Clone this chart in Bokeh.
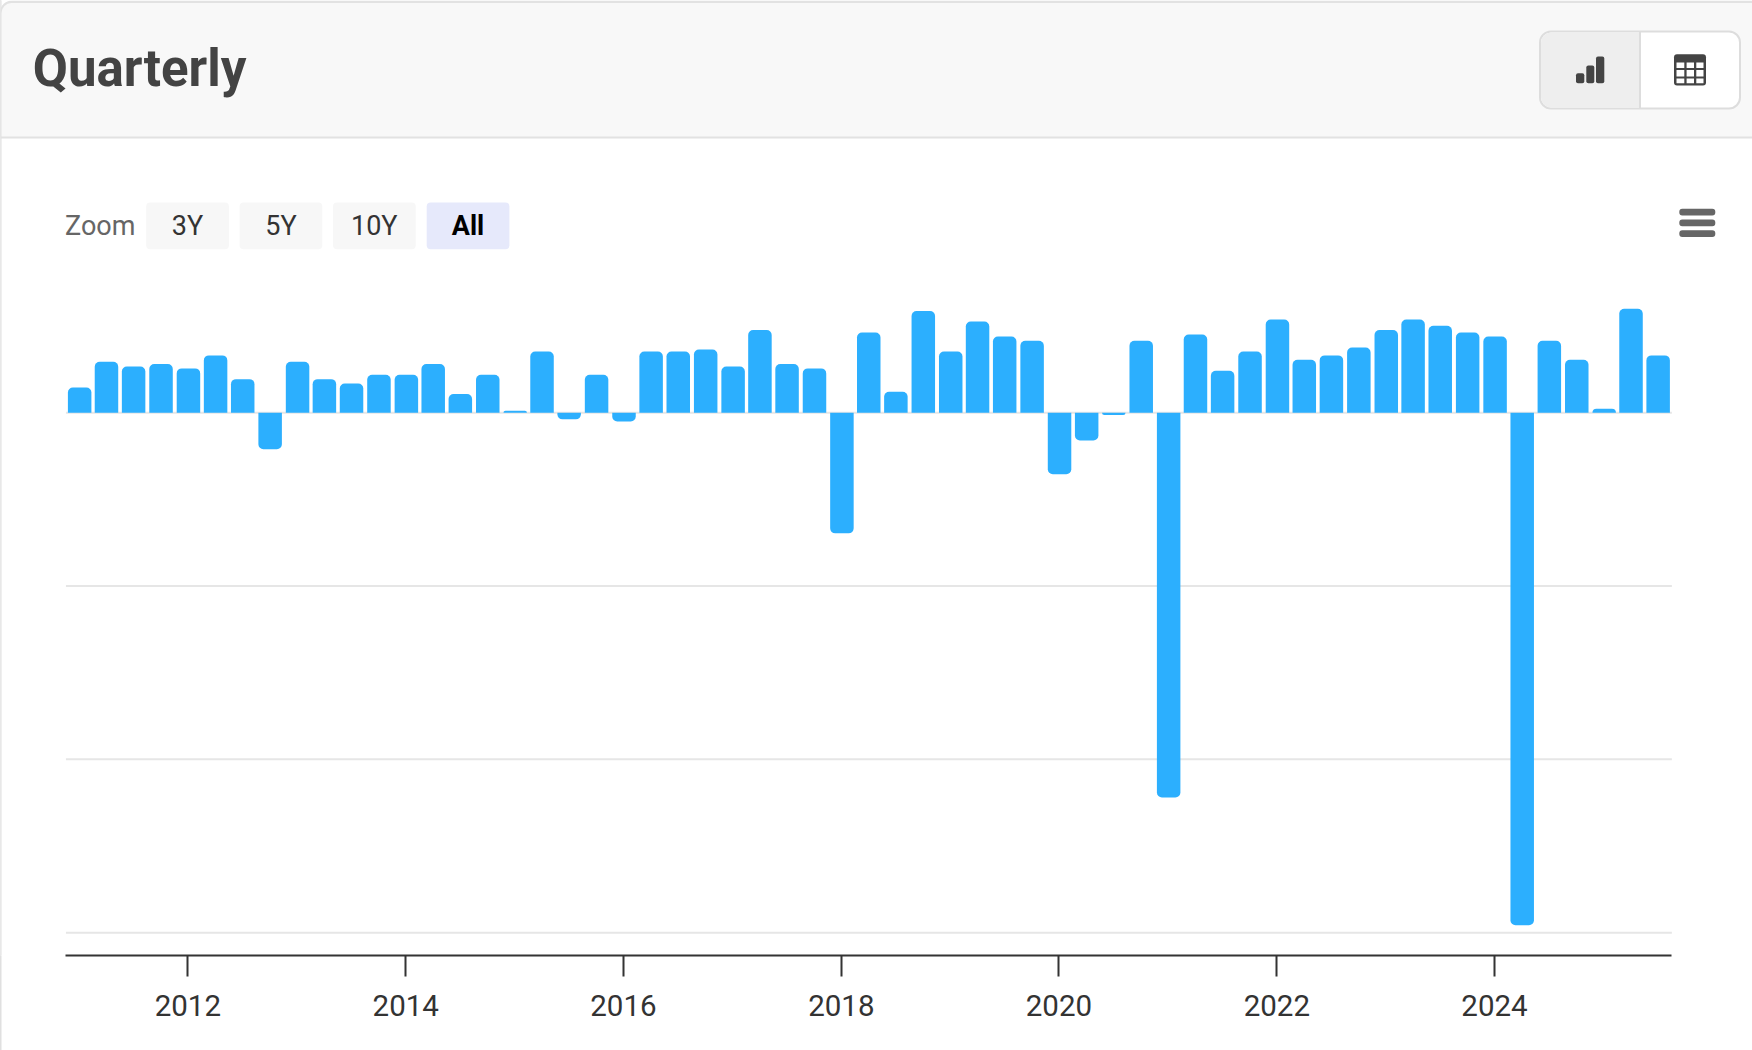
from datetime import datetime, timedelta
from bokeh.embed import file_html
from bokeh.resources import INLINE
from bokeh.plotting import figure
from bokeh.models import BoxAnnotation, Label, Range1d, FixedTicker, DatetimeTickFormatter, ColumnDataSource

# ---- data -----------------------------------------------------------------
quarter_ends = [f"{y}-{md}" for y in range(2010, 2026) for md in ("03-31", "06-30", "09-30", "12-31")][3:-2]
values = [
    14.6, 29.4, 26.7, 28.1, 25.6, 33.1, 19.4, -21.0, 29.4, 19.4,
    16.9, 21.9, 21.9, 28.1, 10.8, 21.9, 1.2, 35.4, -3.8, 21.9,
    -5.0, 35.4, 35.4, 36.5, 26.7, 47.7, 28.1, 25.6, -69.6, 46.3,
    12.1, 58.7, 35.4, 52.7, 44.0, 41.5, -35.5, -16.0, -1.3, 41.5,
    -222.0, 45.2, 24.2, 35.4, 53.8, 30.6, 33.1, 37.7, 47.7, 53.8,
    50.2, 46.3, 44.0, -295.7, 41.5, 30.6, 2.3, 60.0, 33.1,
]
tick_years = [2012, 2014, 2016, 2018, 2020, 2022, 2024]
grid_values = [0, -100, -200, -300]
range_labels = ["3Y", "5Y", "10Y", "All"]
title_text = "Quarterly"
zoom_text = "Zoom"

BAR = "#2caffe"
dates = [datetime.strptime(d, "%Y-%m-%d") + timedelta(days=3) for d in quarter_ends]
F_L, F_B = 0.5, 955  # frame's left and bottom edge on the page
plot_start, plot_end = datetime(2010, 11, 18), datetime(2025, 8, 18)

p = figure(
    width=1752, height=1050, output_backend="svg", toolbar_location=None,
    x_axis_type="datetime",
    x_range=Range1d(datetime(2010, 4, 12, 12), datetime(2026, 5, 15, 12)),
    y_range=Range1d(-313.2, 237.9),
    min_border_left=0, min_border_right=0, min_border_top=0, min_border_bottom=1050 - F_B,
    background_fill_color="white", border_fill_color=None, outline_line_color=None,
)
p.styles = {"position": "absolute", "left": "0px", "top": "0px", "box-shadow": "inset 1.5px 0 0 #e0e0e0"}
p.yaxis.visible = False
p.grid.visible = False

ax = p.xaxis[0]
ax.bounds = (plot_start, plot_end)
ax.ticker = FixedTicker(ticks=[datetime(y, 1, 1).timestamp() * 1000 for y in tick_years])
ax.formatter = DatetimeTickFormatter(years="%Y", months="%Y", days="%Y", hours="%Y", minutes="%Y", seconds="%Y", milliseconds="%Y")
ax.axis_line_color = "#333333"
ax.axis_line_width = 2
ax.major_tick_line_color = "#333333"
ax.major_tick_line_width = 2
ax.major_tick_in = 0
ax.major_tick_out = 21
ax.minor_tick_line_color = None
ax.major_label_text_font = "Roboto"
ax.major_label_text_font_size = "29.5px"
ax.major_label_text_color = "#333333"
ax.major_label_standoff = 18

p.segment(x0=[plot_start] * len(grid_values), x1=[plot_end] * len(grid_values), y0=grid_values, y1=grid_values,
          line_color="#e6e6e6", line_width=2)

bar_w = 23.5 / 108.9 * 365.25 * 864e5
pos = ColumnDataSource(dict(x=[d for d, v in zip(dates, values) if v >= 0], v=[v for v in values if v >= 0]))
neg = ColumnDataSource(dict(x=[d for d, v in zip(dates, values) if v < 0], v=[v for v in values if v < 0]))
p.vbar(x="x", top="v", bottom=0, width=bar_w, source=pos, fill_color=BAR, line_color=None, border_radius=(5, 5, 0, 0))
p.vbar(x="x", top=0, bottom="v", width=bar_w, source=neg, fill_color=BAR, line_color=None, border_radius=(0, 0, 5, 5))


def box(l, r, t, b, fill, radius=0, line=None, lw=0):
    p.add_layout(BoxAnnotation(
        left=l - F_L, right=r - F_L, top=F_B - t, bottom=F_B - b,
        left_units="screen", right_units="screen", top_units="screen", bottom_units="screen",
        fill_color=fill, fill_alpha=1, line_color=line, line_alpha=1 if line else 0, line_width=lw,
        border_radius=radius))


def label(x, y, text, size, color, align="center", style="normal", baseline="middle"):
    p.add_layout(Label(
        x=x - F_L, y=F_B - y, x_units="screen", y_units="screen", text=text, text_font="Roboto",
        text_font_size=size, text_color=color, text_align=align, text_baseline=baseline,
        text_font_style=style))


# card: outer border and header band
box(0, 1.5, 0, 955, "#e0e0e0")
box(0, 1753, 0, 138, "#e2e2e2", radius=(12, 0, 0, 0))
box(1.5, 1753, 2.5, 136, "#f8f8f8", radius=(10, 0, 0, 0))
label(32.8, 68, title_text, "51px", "#434343", align="left", style="bold", baseline="alphabetic")

# view switch in the header
box(1540, 1740, 31, 108, "#ffffff", radius=11, line="#dddddd", lw=2)
box(1541, 1640, 32, 107, "#eeeeee", radius=(10, 0, 0, 10))
box(1639, 1641, 31, 108, "#dddddd")
box(1576, 1584.3, 72.7, 82.7, "#444444", radius=2)
box(1586.3, 1594.3, 65, 82.7, "#444444", radius=2)
box(1596, 1604.3, 56, 82.7, "#444444", radius=2)
box(1674, 1706, 53.7, 85, "#444444", radius=3)
for cl, cr in ((1676.5, 1684.3), (1686.6, 1694), (1696.3, 1703.5)):
    for ct, cb in ((62, 67.5), (69.5, 76), (78, 82.7)):
        box(cl, cr, ct, cb, "#ffffff")

# range selector
label(65, 225.5, zoom_text, "27px", "#666666", align="left")
btn_left = [146.2, 239.6, 333.0, 426.7]
for i, (bl, txt) in enumerate(zip(btn_left, range_labels)):
    sel = txt == "All"
    box(bl, bl + 82.7, 202, 248.7, "#e6e9fb" if sel else "#f7f7f7", radius=4)
    label(bl + 41.3, 225.5, txt, "27px", "#000000" if sel else "#333333", style="bold" if sel else "normal")

# export menu icon
for t in (208.3, 219.0, 229.7):
    box(1679.3, 1715.3, t, t + 6.7, "#666666", radius=3)

open("out.html", "w").write(file_html(p, INLINE))
